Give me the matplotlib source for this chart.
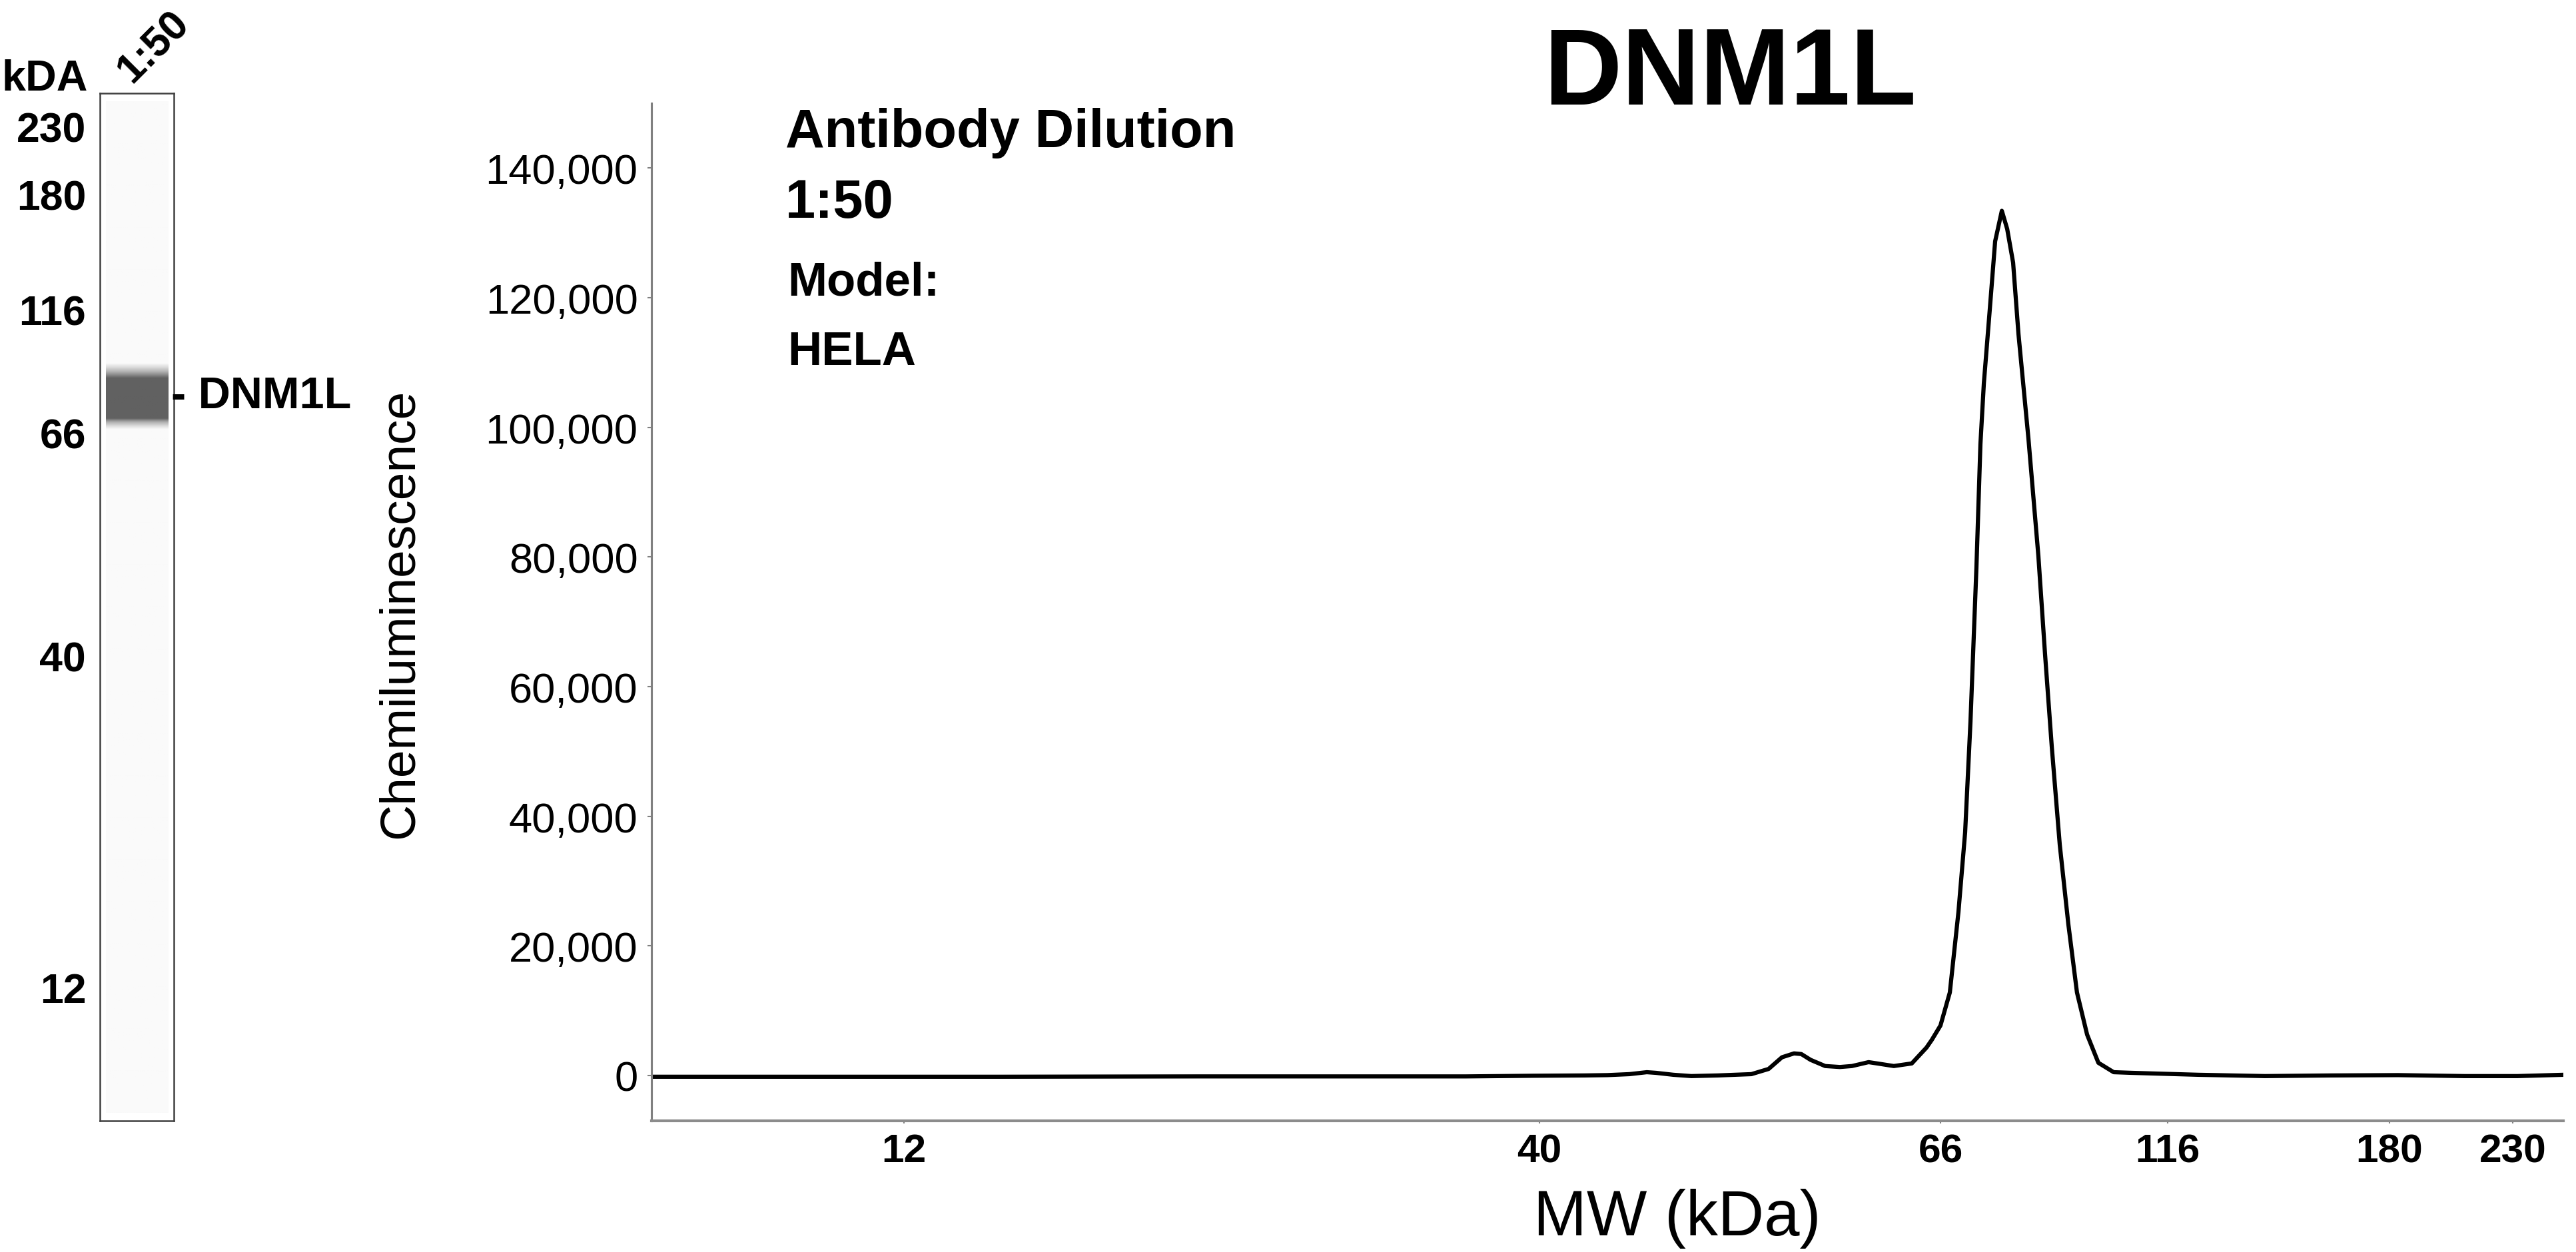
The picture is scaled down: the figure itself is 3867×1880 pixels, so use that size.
import numpy as np
import matplotlib
matplotlib.use("Agg")
import matplotlib.pyplot as plt
from matplotlib import font_manager as fm
from matplotlib.ticker import FuncFormatter

# ---------------- data ----------------
# MW ladder (kDa) and its migration position (% of run) on the electropherogram
ladder_kda = [12, 40, 66, 116, 180, 230]
ladder_position = [13.21, 46.45, 67.42, 79.30, 90.91, 97.35]

# same ladder on the virtual-blot lane (% of lane height, from top)
lane_kda = [230, 180, 116, 66, 40, 12]
lane_position = [3.24, 9.79, 21.0, 32.99, 54.70, 86.97]

# electropherogram trace: migration position (%) and chemiluminescence
position = [0.0, 7.7, 18.2, 28.6, 35.6, 42.6, 46.1, 48.8, 50.0, 51.15,
            52.06, 52.54, 53.45, 54.39, 55.78, 57.53, 58.43, 59.13, 59.76, 60.14,
            60.63, 61.39, 62.16, 62.79, 63.66, 64.11, 64.98, 65.92, 66.69, 66.97,
            67.42, 67.91, 68.36, 68.71, 68.99, 69.30, 69.51, 69.69, 70.0, 70.28,
            70.63, 70.91, 71.22, 71.50, 72.02, 72.54, 72.89, 73.24, 73.66, 74.11,
            74.56, 75.09, 75.68, 76.48, 77.42, 80.91, 84.39, 87.87, 91.36, 94.84,
            97.60, 100.0]
signal = [-200, -200, -200, -150, -150, -150, -50, 0, 50, 200,
          500, 400, 100, -100, 0, 200, 1000, 2800, 3400, 3300,
          2400, 1450, 1300, 1450, 2050, 1850, 1450, 1850, 4300, 5500,
          7700, 12800, 25200, 37500, 54600, 78300, 97400, 106800, 118200, 128700,
          133400, 130600, 125400, 114400, 98300, 80200, 65000, 50800, 35600, 23300,
          12800, 6300, 1950, 500, 400, 100, -100, 0, 50, -100,
          -100, 100]

y_ticks = [0, 20000, 40000, 60000, 80000, 100000, 120000, 140000]
target = "DNM1L"
dilution = "1:50"
model = "HELA"

# ---------------- fonts ----------------
def has_font(name):
    try:
        fm.findfont(fm.FontProperties(family=name), fallback_to_default=False)
        return True
    except Exception:
        return False

SANS = "Liberation Sans"
NARROW = "Liberation Sans Narrow" if has_font("Liberation Sans Narrow") else None
plt.rcParams["font.family"] = [SANS, "DejaVu Sans"]

W, H = 3867, 1881
DPI = 300
fig = plt.figure(figsize=(W / DPI, H / DPI), dpi=DPI)

def fx(px):
    return px / W

def fy(py):
    return 1 - py / H

# ---------------- electropherogram ----------------
ax = fig.add_axes([fx(978), fy(1684), fx(3848) - fx(978), fy(156) - fy(1684)])
ax.plot(position, signal, color="black", lw=1.5, solid_joinstyle="round")
ax.set_xlim(0, 100)
ax.set_ylim(-7000, 150000)
ax.set_yticks(y_ticks)
ax.yaxis.set_major_formatter(FuncFormatter(lambda v, p: f"{v:,.0f}"))
ax.set_xticks(ladder_position)
ax.set_xticklabels([str(k) for k in ladder_kda], fontweight="bold")
for s in ("top", "right"):
    ax.spines[s].set_visible(False)
ax.spines["left"].set_color("#808080")
ax.spines["left"].set_linewidth(0.75)
ax.spines["bottom"].set_color("#8c8c8c")
ax.spines["bottom"].set_linewidth(1.0)
ax.tick_params(axis="y", direction="out", length=1.5, width=0.5, color="#808080",
               pad=3.4, labelsize=15.2)
ax.tick_params(axis="x", direction="out", length=0.9, width=0.5, color="#808080",
               pad=3.5, labelsize=14.5)

fig.text(fx(2518), fy(1855), "MW (kDa)", fontsize=23, ha="center", va="baseline")
fig.text(fx(600), fy(921), "Chemiluminescence", fontsize=18, rotation=90,
         ha="center", va="center")

fig.text(fx(2597), fy(157), target, fontsize=39, fontweight="bold",
         ha="center", va="baseline")

fig.text(fx(1179), fy(221), "Antibody Dilution", fontsize=19.5, fontweight="bold",
         ha="left", va="baseline")
fig.text(fx(1179), fy(327), dilution, fontsize=19.5, fontweight="bold",
         ha="left", va="baseline")
if NARROW:
    kw = dict(fontsize=20.5, fontweight="bold", family=[NARROW, SANS])
else:
    kw = dict(fontsize=17, fontweight="bold")
fig.text(fx(1182), fy(443), "Model:", ha="left", va="baseline", **kw)
fig.text(fx(1182), fy(548), model, ha="left", va="baseline", **kw)

# ---------------- virtual blot lane ----------------
lane = fig.add_axes([fx(150), fy(1684), fx(261) - fx(150), fy(141) - fy(1684)])
rows = np.linspace(0, 100, 1543)
log_mw = np.interp(rows, lane_position, np.log10(lane_kda))
run_pos = np.interp(log_mw, np.log10(ladder_kda), ladder_position)
lane_sig = np.interp(run_pos, position, signal)
intensity = np.clip((lane_sig - 15000.0) / 45000.0, 0, 1)
gray = 0.98 - 0.60 * intensity
lane.imshow(gray[:, None], cmap="gray", vmin=0, vmax=1, aspect="auto",
            extent=[0.08, 0.92, 99.2, 0.8], interpolation="bilinear")
lane.set_xlim(0, 1)
lane.set_ylim(100, 0)
lane.set_xticks([])
lane.set_yticks(lane_position)
lane.set_yticklabels([str(k) for k in lane_kda], fontweight="bold")
lane.tick_params(axis="y", length=0, pad=5.0, labelsize=15)
for s in lane.spines.values():
    s.set_color("#404040")
    s.set_linewidth(0.6)

fig.text(fx(132), fy(136), "kDA", fontsize=15.5, fontweight="bold",
         ha="right", va="baseline")
fig.text(fx(230), fy(71), dilution, fontsize=15, fontweight="bold", rotation=45,
         ha="center", va="center", rotation_mode="anchor")
fig.text(fx(257), fy(589), "- " + target, fontsize=16, fontweight="bold",
         ha="left", va="center_baseline")

fig.savefig("out.png", dpi=DPI, facecolor="white")
